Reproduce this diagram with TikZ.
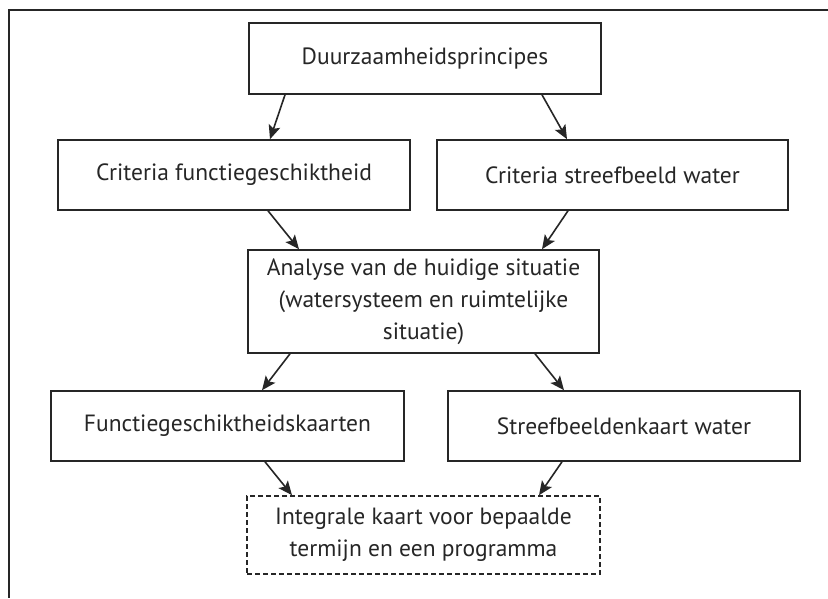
\documentclass[tikz,border=0pt]{standalone}
\usepackage{fontspec}
\setmainfont{PT Sans}
\usetikzlibrary{arrows.meta,calc}
\definecolor{ink}{HTML}{262626}
\tikzset{
  box/.style={draw=ink, line width=1.6pt, inner sep=0pt, minimum width=352pt, minimum height=70pt, align=center, text=ink, font=\fontsize{23.5}{32}\selectfont},
  dbox/.style={box, dash pattern=on 5pt off 3pt},
  conn/.style={draw=ink, line width=1.6pt, -{Stealth[length=14pt,width=12pt,inset=3pt]}}
}
\begin{document}
\begin{tikzpicture}[x=1pt,y=-1pt]
\useasboundingbox[fill=white] (0,0) rectangle (828,598);
\draw[ink, line width=1.6pt] (828,10) -- (9,10) -- (9,598);
\node[box, minimum height=71pt] (D) at (425,58.5) {Duurzaamheidsprincipes};
\node[box] (CF) at (234,175) {Criteria functiegeschiktheid};
\node[box, minimum width=351pt] (CS) at (612.5,175) {Criteria streefbeeld water};
\node[box, minimum width=351pt, minimum height=103pt] (A) at (423.5,301.5) {Analyse van de huidige situatie\\(watersysteem en ruimtelijke\\situatie)};
\node[box, minimum width=353pt] (F) at (227.5,426) {Functiegeschiktheidskaarten};
\node[box] (S) at (624,426) {Streefbeeldenkaart water};
\node[dbox, minimum width=353pt, minimum height=78pt] (I) at (423.5,535) {Integrale kaart voor bepaalde\\termijn en een programma};
\draw[conn] ($(D.south)+(-140,0)$) -- ($(CF.north)+(36,0)$);
\draw[conn] ($(D.south)+(117,0)$) -- ($(CS.north)+(-45.5,0)$);
\draw[conn] ($(CF.south)+(34,0)$) -- ($(A.north)+(-124.5,0)$);
\draw[conn] ($(CS.south)+(-44.5,0)$) -- ($(A.north)+(118.5,0)$);
\draw[conn] ($(A.south)+(-133.5,0)$) -- ($(F.north)+(34.5,0)$);
\draw[conn] ($(A.south)+(111.5,0)$) -- ($(S.north)+(-60,0)$);
\draw[conn] ($(F.south)+(37.5,0)$) -- ($(I.north)+(-131.5,0)$);
\draw[conn] ($(S.south)+(-62,0)$) -- ($(I.north)+(115.5,0)$);
\end{tikzpicture}
\end{document}
